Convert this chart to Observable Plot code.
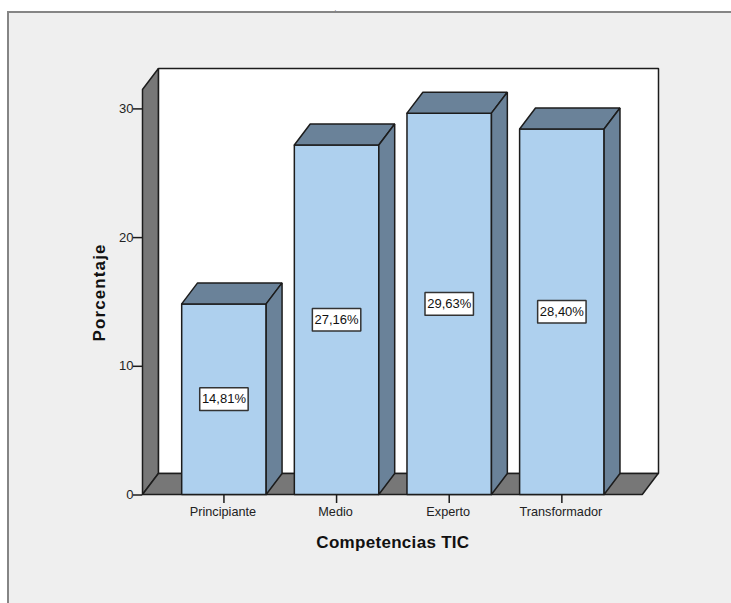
<!DOCTYPE html>
<html><head><meta charset="utf-8">
<script src="https://cdn.jsdelivr.net/npm/d3@7"></script>
<script src="https://cdn.jsdelivr.net/npm/@observablehq/plot@0.6"></script>
<style>
html,body{margin:0;padding:0;background:#fff;overflow:hidden}
#panel{position:absolute;left:7px;top:11px;right:0;bottom:0;background:#efefef;border-left:2px solid #858585;border-top:2px solid #858585}
#chart{position:absolute;left:0;top:0}
#chart svg{background:transparent;display:block}
.xtitle{letter-spacing:.3px}
.ytitle{letter-spacing:1.1px}
</style></head><body>
<div id="panel"></div><div id="chart"></div>
<script>
const categories = ["Principiante","Medio","Experto","Transformador"];
const values = [14.81,27.16,29.63,28.40];
const percentLabels = ["14,81%","27,16%","29,63%","28,40%"];
const yTicks = [0,10,20,30];
const xDomain = [-0.723,3.858];
const yDomain = [0,33.1];
const depthX = 0.141, depthY = 1.63, barHalf = 0.375;
const floorLeft = -0.723, floorRight = 3.714, wallTop = yDomain[1]-depthY;
const boxHalfX = 0.215, boxHalfY = 0.88;
const tickDepth = 0.7;

const ink = "#1c1c1c", front = "#aed0ee", shade = "#6a8299", wall = "#777777";
const bars = categories.map((c,i)=>({c,i,v:values[i],label:percentLabels[i]}));
const poly = (id,pts)=>[...pts,pts[0]].map(([x,y])=>({id,x,y}));
const structure = [
  ...poly("wall",[[floorLeft,0],[floorLeft+depthX,depthY],[floorLeft+depthX,yDomain[1]],[floorLeft,wallTop]]),
  ...poly("floor",[[floorLeft,0],[floorRight,0],[floorRight+depthX,depthY],[floorLeft+depthX,depthY]])
];
const backWall = poly("back",[[floorLeft+depthX,depthY],[xDomain[1],depthY],[xDomain[1],yDomain[1]],[floorLeft+depthX,yDomain[1]]]);
const tops = bars.flatMap(b=>poly(b.c,[[b.i-barHalf,b.v],[b.i+barHalf,b.v],[b.i+barHalf+depthX,b.v+depthY],[b.i-barHalf+depthX,b.v+depthY]]));
const sides = bars.flatMap(b=>poly(b.c,[[b.i+barHalf,0],[b.i+barHalf+depthX,depthY],[b.i+barHalf+depthX,b.v+depthY],[b.i+barHalf,b.v]]));
const fronts = bars.flatMap(b=>poly(b.c,[[b.i-barHalf,0],[b.i+barHalf,0],[b.i+barHalf,b.v],[b.i-barHalf,b.v]]));
const boxes = bars.flatMap(b=>poly(b.c,[[b.i-boxHalfX,b.v/2-boxHalfY],[b.i+boxHalfX,b.v/2-boxHalfY],[b.i+boxHalfX,b.v/2+boxHalfY],[b.i-boxHalfX,b.v/2+boxHalfY]]));

const face = (data,fill,stroke=ink,strokeWidth=1.5)=>Plot.line(data,{x:"x",y:"y",z:"id",fill,stroke,strokeWidth,strokeLinejoin:"miter",curve:"linear"});
const plot = Plot.plot({
  width:731,height:603,marginLeft:142,marginRight:73,marginTop:68,marginBottom:109,
  style:{background:"transparent",fontFamily:"'Liberation Sans',Arial,sans-serif",overflow:"visible"},
  x:{type:"linear",domain:xDomain,axis:null},
  y:{type:"linear",domain:yDomain,axis:null},
  marks:[
    face(backWall,"#fff"),
    face(structure,wall),
    face(fronts,front),
    face(tops,shade),
    face(sides,shade),
    face(boxes,"#fff","#333",1.5),
    Plot.text(bars,{x:"i",y:d=>d.v/2,text:"label",fontSize:13,fill:"#111"}),
    Plot.axisY(yTicks,{anchor:"left",tickSize:9,tickPadding:0,label:null,fontSize:13,stroke:ink,strokeWidth:1.5,fill:"#222",dy:0.5}),
    Plot.ruleX(bars,{x:"i",y1:0,y2:-tickDepth,stroke:ink,strokeWidth:1.5}),
    Plot.axisX(bars.map(b=>b.i),{anchor:"bottom",tickSize:0,tickPadding:12,tickFormat:i=>categories[i],label:null,fontSize:12.7,fill:"#222",dx:-1}),
    Plot.text(["Competencias TIC"],{x:()=>1.5,frameAnchor:"bottom",dy:53,fontSize:17,fontWeight:"bold",fill:"#111",className:"xtitle"}),
    Plot.text(["Porcentaje"],{y:()=>15.7,frameAnchor:"left",dx:-43,rotate:-90,textAnchor:"middle",fontSize:17,fontWeight:"bold",fill:"#111",className:"ytitle"}),
    Plot.text(["."],{x:()=>0.99,frameAnchor:"top",dy:-63,fontSize:8,fill:"#777"})
  ]
});
document.getElementById("chart").append(plot);
</script></body></html>
